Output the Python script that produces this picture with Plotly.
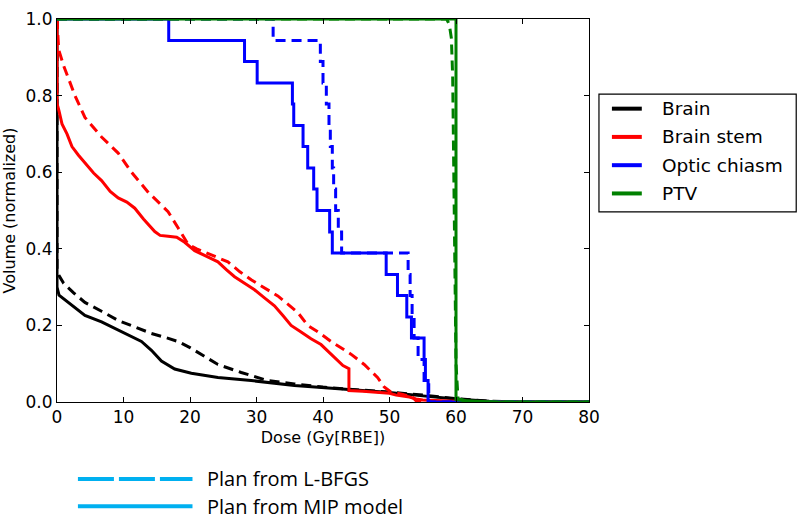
import plotly.graph_objects as go

# ---- dose-volume histograms (dose in Gy[RBE], volume normalized) ----------
brain_mip_dose = [0, 0, 0.3, 2, 4.2, 6.7, 9.7, 12.7, 14.2, 15.7, 17.7, 20.2, 24.2, 29.2,
                  35.7, 40, 45, 50, 55, 60, 65, 70, 80]
brain_mip_vol = [1.0, 0.30, 0.279, 0.255, 0.226, 0.209, 0.183, 0.158, 0.135, 0.107, 0.086,
                 0.075, 0.064, 0.056, 0.043, 0.037, 0.031, 0.025, 0.016, 0.008, 0.002, 0.0, 0.0]

brain_lbfgs_dose = [0, 0, 0.3, 1.0, 2.5, 4.2, 6.7, 9.2, 11.7, 14.2, 16.2, 18.2, 20, 21.7,
                    24.2, 27.7, 31.7, 35.7, 40, 45, 50, 55, 60, 65, 70, 80]
brain_lbfgs_vol = [1.0, 0.35, 0.33, 0.31, 0.285, 0.26, 0.237, 0.213, 0.196, 0.179, 0.169,
                   0.158, 0.142, 0.124, 0.098, 0.077, 0.056, 0.047, 0.039, 0.032, 0.026,
                   0.018, 0.009, 0.002, 0, 0]

stem_mip_dose = [0, 0, 0.3, 0.75, 1.5, 2.25, 3.2, 4.2, 5.5, 6.7, 8, 9.2, 10.5, 11.7, 13,
                 14.7, 15.5, 16.7, 18, 19.2, 20.7, 22.5, 24.2, 25.5, 26.7, 28.2, 29.7, 31.2,
                 32.7, 34, 35.2, 36.7, 38.2, 39.7, 41, 42.2, 43.0, 43.9, 43.9, 46, 48, 50,
                 51, 53, 54, 55, 58, 60, 63, 80]
stem_mip_vol = [1.0, 0.78, 0.76, 0.726, 0.70, 0.667, 0.645, 0.624, 0.598, 0.578, 0.55,
                0.533, 0.522, 0.506, 0.478, 0.445, 0.435, 0.433, 0.43, 0.417, 0.395, 0.38,
                0.366, 0.345, 0.327, 0.31, 0.293, 0.272, 0.251, 0.225, 0.2, 0.183, 0.165,
                0.15, 0.128, 0.107, 0.095, 0.087, 0.03, 0.028, 0.026, 0.023, 0.018, 0.013,
                0.008, 0.005, 0.003, 0.002, 0.0, 0.0]

stem_lbfgs_dose = [0, 0.25, 1.0, 2.7, 4.2, 5.5, 6.7, 9.2, 11.2, 13.7, 16.7, 18.2, 19.7, 21,
                   22.7, 25.7, 27.5, 29.2, 33.2, 36.2, 37.7, 39.5, 41.2, 44.2, 46.2, 48.2,
                   49.2, 50.2, 52, 53.5, 54, 55, 80]
stem_lbfgs_vol = [1.0, 0.92, 0.878, 0.80, 0.743, 0.715, 0.692, 0.65, 0.60, 0.548, 0.497,
                  0.455, 0.412, 0.40, 0.387, 0.366, 0.34, 0.319, 0.277, 0.234, 0.2, 0.18,
                  0.158, 0.125, 0.098, 0.064, 0.039, 0.026, 0.02, 0.012, 0.003, 0, 0]

chiasm_mip_dose = [0, 16.8, 28.2, 30.1, 35.4, 35.6, 37.0, 37.7, 38.6, 39.1, 41.0, 41.4,
                   49.5, 51.2, 52.6, 53.3, 55.2, 55.4, 55.8, 80]
chiasm_mip_vol = [1, 0.944, 0.889, 0.833, 0.778, 0.722, 0.667, 0.611, 0.556, 0.5, 0.444,
                  0.389, 0.333, 0.278, 0.222, 0.167, 0.111, 0.056, 0, 0]

chiasm_lbfgs_dose = [0, 32.5, 39.6, 40.0, 40.5, 40.9, 41.1, 41.4, 41.6, 41.9, 42.3, 42.8,
                     52.8, 53.1, 53.4, 53.7, 54.3, 55.2, 55.9, 80]
chiasm_lbfgs_vol = [1, 0.944, 0.889, 0.833, 0.778, 0.722, 0.667, 0.611, 0.556, 0.5, 0.444,
                    0.389, 0.333, 0.278, 0.222, 0.167, 0.111, 0.056, 0, 0]

ptv_mip_dose = [0, 60, 60, 61, 63, 66, 80]
ptv_mip_vol = [1, 1, 0.006, 0.004, 0.002, 0, 0]

ptv_lbfgs_dose = [0, 58.6, 59.0, 59.3, 59.5, 59.7, 60.0, 60.3, 62, 80]
ptv_lbfgs_vol = [1, 1, 0.985, 0.95, 0.85, 0.5, 0.1, 0.01, 0, 0]

structures = ["Brain", "Brain stem", "Optic chiasm", "PTV"]
colors = ["#000000", "#ff0000", "#0000ff", "#008000"]
plan_labels = ["Plan from L-BFGS", "Plan from MIP model"]
x_ticks = [0, 10, 20, 30, 40, 50, 60, 70, 80]
y_ticks = [0.0, 0.2, 0.4, 0.6, 0.8, 1.0]
PLAN_COLOR = "#00b0f0"
DASH = "10px,6px"

curves = [  # (dose, vol, structure index, dashed, step)
    (brain_lbfgs_dose, brain_lbfgs_vol, 0, True, False),
    (brain_mip_dose, brain_mip_vol, 0, False, False),
    (stem_lbfgs_dose, stem_lbfgs_vol, 1, True, False),
    (stem_mip_dose, stem_mip_vol, 1, False, False),
    (chiasm_lbfgs_dose, chiasm_lbfgs_vol, 2, True, True),
    (chiasm_mip_dose, chiasm_mip_vol, 2, False, True),
    (ptv_lbfgs_dose, ptv_lbfgs_vol, 3, True, False),
    (ptv_mip_dose, ptv_mip_vol, 3, False, False),
]

fig = go.Figure()
for dose, vol, k, dashed, step in curves:
    fig.add_trace(go.Scatter(
        x=dose, y=vol, mode="lines", showlegend=False, hoverinfo="skip",
        line=dict(color=colors[k], width=3, dash=DASH if dashed else "solid",
                  shape="hv" if step else "linear")))

# ---- page geometry (pixels) -> paper coords --------------------------------
L, R, T, B = 55, 589, 9, 402


def px(x):
    return (x - L) / (R - L)


def py(y):
    return (B - y) / (B - T)


shapes, annos = [], []
# structure legend box
shapes.append(dict(type="rect", xref="paper", yref="paper", x0=px(599), x1=px(797),
                   y0=py(86), y1=py(207), line=dict(color="black", width=1.2),
                   fillcolor="white", layer="above"))
for i, (name, c) in enumerate(zip(structures, colors)):
    yy = py(101 + i * 29)
    shapes.append(dict(type="line", xref="paper", yref="paper", x0=px(612), x1=px(642),
                       y0=yy, y1=yy, line=dict(color=c, width=4)))
    annos.append(dict(text=name, xref="paper", yref="paper", x=px(660), y=yy,
                      xanchor="left", yanchor="middle", showarrow=False,
                      font=dict(family="DejaVu Sans", size=18.5, color="black")))

# plan-type legend below the axes
for i, (name, dash) in enumerate(zip(plan_labels, ["36px,5px", "solid"])):
    yy = py(481 + i * 28)
    shapes.append(dict(type="line", xref="paper", yref="paper", x0=px(76), x1=px(191),
                       y0=yy, y1=yy, line=dict(color=PLAN_COLOR, width=4, dash=dash)))
    annos.append(dict(text=name, xref="paper", yref="paper", x=px(204), y=yy,
                      xanchor="left", yanchor="middle", showarrow=False,
                      font=dict(family="Open Sans", size=20, color="black")))

axis_common = dict(showline=True, linecolor="black", linewidth=1, mirror="ticks",
                   ticks="inside", ticklen=5, tickcolor="black", showgrid=False,
                   zeroline=False, ticklabeloverflow="allow",
                   tickfont=dict(family="DejaVu Sans", size=17, color="black"))

fig.update_layout(
    width=800, height=520,
    margin=dict(l=L, r=800 - R, t=T, b=520 - B),
    plot_bgcolor="white", paper_bgcolor="white",
    xaxis=dict(range=[0, 80], tickvals=x_ticks,
               title=dict(text="Dose (Gy[RBE])", standoff=5,
                          font=dict(family="DejaVu Sans", size=16, color="black")),
               **axis_common),
    yaxis=dict(range=[0, 1], tickvals=y_ticks, tickformat=".1f",
               title=dict(text="Volume (normalized)", standoff=5,
                          font=dict(family="DejaVu Sans", size=16, color="black")),
               **axis_common),
    shapes=shapes, annotations=annos, showlegend=False,
)

# the browser's default 8px body margin would shift the 800x520 figure
fig.write_html("out.html", config={"displayModeBar": False},
               post_script="document.body.style.margin='0';")
